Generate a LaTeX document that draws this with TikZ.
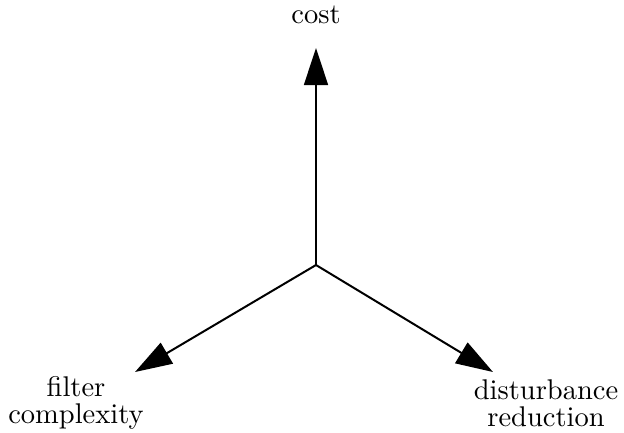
\documentclass[tikz,border=0pt]{standalone}
\usetikzlibrary{arrows.meta}
\begin{document}
\begin{tikzpicture}[x=0.3509pt, y=-0.3509pt,
  axis/.style={line width=0.7pt, -{Triangle[length=13pt, width=8.4pt]}},
  axlabel/.style={inner sep=0pt, align=center, font=\fontsize{10}{9.5}\selectfont}]
  \useasboundingbox (0,0) rectangle (624,432);
  % common origin of the three axes and their end points
  \coordinate (O) at (316,265);
  \coordinate (costend) at (316,48);
  \coordinate (filterend) at (135,372);
  \coordinate (distend) at (493,372);
  % axes
  \draw[axis] (O) -- (costend);
  \draw[axis] (O) -- (filterend);
  \draw[axis] (O) -- (distend);
  % axis labels
  \node[axlabel, anchor=base] (cost) at (316,23) {cost};
  \node[axlabel] (filter) at (76,402.5) {filter\\complexity};
  \node[axlabel] (dist) at (546,403) {disturbance\\reduction};
\end{tikzpicture}
\end{document}
